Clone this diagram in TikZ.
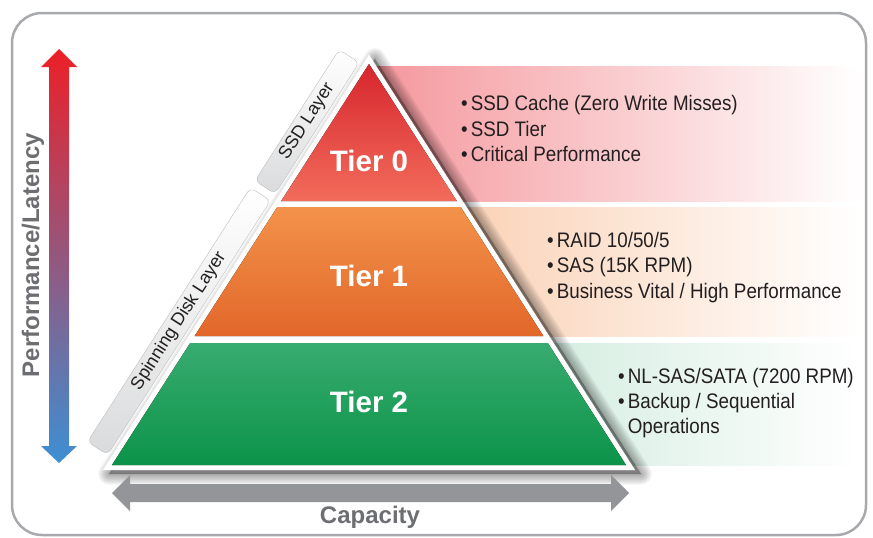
\documentclass[tikz,border=0pt]{standalone}
\usepackage{fontspec}
\setmainfont{Liberation Sans}
\newfontfamily\condfont{Liberation Sans}[FakeStretch=0.895]

\definecolor{framegray}{HTML}{A7A9AC}
\definecolor{axisgray}{HTML}{6D6E71}
\definecolor{arrowgray}{HTML}{939598}
\definecolor{textdark}{HTML}{231F20}
\definecolor{bargray}{HTML}{BCBEC0}
\definecolor{barfill}{HTML}{DADBDC}
\definecolor{perfred}{HTML}{ED1F27}
\definecolor{perfpurple}{HTML}{955681}
\definecolor{perfblue}{HTML}{3D8FD3}
\definecolor{band0}{HTML}{F4979C}
\definecolor{band1}{HTML}{F9C8A6}
\definecolor{band2}{HTML}{BEE4D0}
\definecolor{tier0top}{HTML}{D7262E}
\definecolor{tier0mid}{HTML}{EC1F26}
\definecolor{tier0bot}{HTML}{F26C5B}
\definecolor{tier1top}{HTML}{F3924B}
\definecolor{tier1mid}{HTML}{F47C2A}
\definecolor{tier1bot}{HTML}{E2672A}
\definecolor{tier2top}{HTML}{38AC70}
\definecolor{tier2bot}{HTML}{0C9349}

\begin{document}
\begin{tikzpicture}[x=1pt, y=-1pt,
    tiertitle/.style={font=\bfseries\fontsize{29.5}{29.5}\selectfont, text=white, anchor=base},
    bullets/.style={font=\condfont\fontsize{21}{25.2}\selectfont, text=textdark, align=left, anchor=west, inner sep=0pt},
    layerbar/.style={draw=bargray, rounded corners=6pt, top color=white, bottom color=barfill, rotate=57.35,
      font=\fontsize{18}{18}\selectfont, text=textdark, minimum height=24pt, inner sep=0pt},
    axislabel/.style={font=\bfseries\fontsize{24}{24}\selectfont, text=axisgray}]
  \useasboundingbox (0,0) rectangle (873,538);

  % Frame:
  \draw[framegray, line width=2.5pt, rounded corners=30pt] (12,13) rectangle (866,535);

  % Bands behind the tiers:
  \shade[left color=band0, right color=white] (369,66) rectangle (860,201);
  \shade[left color=band1, right color=white] (369,207) rectangle (860,336);
  \shade[left color=band2, right color=white] (369,343) rectangle (860,465);

  % Shadow and white rim of the pyramid:
  \begin{scope}[shift={(6,4)}]
    \foreach \w in {3,6,...,21}
      \filldraw[black, opacity=.05, line width=\w pt, line join=round]
        (369,54.7) -- (102.9,470) -- (635.1,470) -- cycle;
  \end{scope}
  \fill[white] (369,54.7) -- (102.9,470) -- (635.1,470) -- cycle;

  % Tiers:
  \fill[top color=tier0top, middle color=tier0mid, bottom color=tier0bot]
    (369,64) -- (281.2,201) -- (456.8,201) -- cycle;
  \fill[top color=tier1top, middle color=tier1mid, bottom color=tier1bot]
    (277.3,207) -- (460.7,207) -- (543.4,336) -- (194.6,336) -- cycle;
  \fill[top color=tier2top, bottom color=tier2bot]
    (190.2,343) -- (547.8,343) -- (626,465) -- (112,465) -- cycle;

  \node[tiertitle] (tier0) at (369,171) {Tier 0};
  \node[tiertitle] (tier1) at (369,286) {Tier 1};
  \node[tiertitle] (tier2) at (369,412) {Tier 2};

  % Layer bars along the left edge:
  \node[layerbar, minimum width=156pt] (ssdbar) at (307.1,121.7) {SSD Layer};
  \node[layerbar, minimum width=302pt] (diskbar) at (179,321.2) {Spinning Disk Layer};

  % Bullet lists:
  \node[bullets] (list0) at (461,128.5) {•\kern3pt SSD Cache (Zero Write Misses)\\•\kern3pt SSD Tier\\•\kern3pt Critical Performance};
  \node[bullets] (list1) at (547,267.5) {•\kern3pt RAID 10/50/5\\•\kern3pt SAS (15K RPM)\\•\kern3pt Business Vital / High Performance};
  \node[bullets] (list2) at (618,403) {•\kern3pt NL-SAS/SATA (7200 RPM)\\•\kern3pt Backup / Sequential\\\phantom{•}\kern3pt Operations};

  % Axes:
  \shade[top color=perfred, middle color=perfpurple, bottom color=perfblue]
    (59,49) -- (77,67) -- (69,67) -- (69,446) -- (77,446) -- (59,463)
    -- (41,446) -- (49,446) -- (49,67) -- (41,67) -- cycle;
  \fill[arrowgray] (112,493) -- (130,475) -- (130,484) -- (611,484) -- (611,475) -- (629,493)
    -- (611,511) -- (611,502) -- (130,502) -- (130,511) -- cycle;
  \node[axislabel, rotate=90] (perf) at (33,255) {Performance/Latency};
  \node[axislabel] (capacity) at (370,517) {Capacity};
\end{tikzpicture}
\end{document}
